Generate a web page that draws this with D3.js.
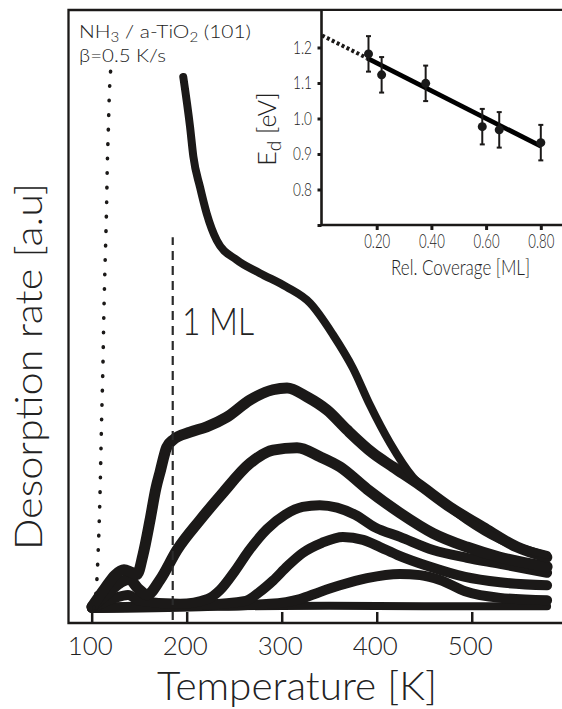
<!DOCTYPE html>
<html><head><meta charset="utf-8">
<script src="https://cdn.jsdelivr.net/npm/d3@7"></script>
<style>
html,body{margin:0;padding:0;background:#fff;}
svg{display:block;}
text{font-family:Lato,"Open Sans","DejaVu Sans",sans-serif;font-weight:300;fill:#222;}
</style></head><body>
<svg id="chart" width="562" height="709"></svg>
<script>
// ---------- DATA ----------
const tempTicks = [100, 200, 300, 400, 500];

// multilayer leading edge (dotted spike)
const multiT = [102.4,105.3,106.9,108.7,110.5,111.9,112.7,114,115,115.8,116.4,117.5,118.5,120];
const multiV = [0,4.2,9.7,18.6,31.9,41.0,48.2,57,62.7,68.2,73.7,79.9,85.5,90];

// TPD curves, highest to lowest coverage
const curveA_T = [196.4,203.5,207,214,221,231.6,252.6,277,305,329.8,354,375,393,414,438,466.6,494.7,530,579];
const curveA_V = [88.8,80.5,75.5,70.4,66.0,61.5,58.2,56.0,53.7,51.0,45.7,40.1,33.9,27.6,21.9,18.1,14.7,11.4,8.9];

const curveB_T = [100.3,114,124.5,134,141.4,147.7,154,161.4,167.7,171.9,179,185.6,203.5,221,242,266.6,290.8,305.6,326.6,347.7,368.7,396,417,442.4,477,511.9,547.7,579];
const curveB_V = [0.2,3.3,5.5,6.4,6.0,5.6,8.9,14.7,20.1,22.7,26.9,28.1,29.4,30.3,31.9,34.8,36.5,36.8,35.3,33.1,29.8,25.9,23.6,20.9,16.9,13.5,10.2,8.5];

const curveC_T = [100.3,117.2,129.8,139.3,148.7,158.2,171.9,189.8,214,237.2,266.6,290.8,316.1,340.3,361.4,389.8,424.5,459.3,495,529.8,579.3];
const curveC_V = [0.2,2.5,4.2,4.8,3.3,2.2,4.7,9.7,14.7,19.1,24.2,26.4,26.8,25.3,23.6,19.9,15.9,12.5,10.2,8.5,6.9];

const curveD_T = [100.3,124.5,138.2,150.8,193,222,235,250.8,265,284.5,303.5,322,340,358.2,377.2,398.2,424.5,459.3,495,529.8,579.3];
const curveD_V = [0,1.7,2.2,1.2,0.7,1.5,3.0,6.2,9.5,13.2,15.6,16.9,17.2,16.8,15.6,13.5,11.9,9.7,8.4,7.4,5.9];

const curveE_T = [100.3,161.4,214,262,276,291,306,322,342.4,364.5,385.6,403.5,421.4,456.1,493,529.8,579.3];
const curveE_V = [0,0.3,0.5,1.2,2.6,4.6,7.0,9.2,10.9,11.9,11.4,10.2,8.9,6.9,5.2,4.3,3.8];

const curveF_T = [100.3,214,287.7,319.3,340.3,361.4,389.8,424.5,445.6,466.6,493,529.8,579.3];
const curveF_V = [0,0.3,0.7,1.5,2.7,3.8,5.0,5.7,5.5,4.7,2.8,1.7,1.3];

const curveG_T = [100.3,150,250,350,450,579.3];
const curveG_V = [0.2,0.3,0.3,0.4,0.3,0.3];

// 1 ML marker (dashed)
const oneML_T = 185.3;
const oneML_V = [-2, 62];

// inset: desorption energy vs coverage
const coverage = [0.17, 0.218, 0.379, 0.586, 0.648, 0.80];
const energy   = [1.182, 1.123, 1.099, 0.977, 0.968, 0.932];
const energyErr = [0.05, 0.05, 0.05, 0.05, 0.05, 0.05];
const fitCov = [0.165, 0.80];
const fitE   = [1.170, 0.922];
const extrapCov = [0.0, 0.165];
const extrapE   = [1.234, 1.170];
const insetYTicks = [0.7, 0.8, 0.9, 1.0, 1.1, 1.2];
const insetXTicks = [0.2, 0.4, 0.6, 0.8];

// ---------- DRAW ----------
const svg = d3.select('#chart');
const ink = '#1b1918';

const x = d3.scaleLinear().domain([75.6, 595]).range([68.5, 562]);
const y = d3.scaleLinear().domain([-2.5, 100]).range([623, 10]);

svg.append('defs').append('clipPath').attr('id','plotclip')
  .append('rect').attr('x',68.5).attr('y',10).attr('width',562-68.5).attr('height',613);

const zip = (a,b) => a.map((d,i)=>[d,b[i]]);
const line = d3.line().x(d=>x(d[0])).y(d=>y(d[1])).curve(d3.curveMonotoneX);

const plot = svg.append('g').attr('clip-path','url(#plotclip)');

const series = [
  {t:curveG_T, v:curveG_V, w:8},
  {t:curveF_T, v:curveF_V, w:10},
  {t:curveE_T, v:curveE_V, w:10},
  {t:curveD_T, v:curveD_V, w:10},
  {t:curveC_T, v:curveC_V, w:11},
  {t:curveB_T, v:curveB_V, w:11},
  {t:curveA_T, v:curveA_V, w:8}
];
series.forEach(s=>{
  plot.append('path').attr('d', line(zip(s.t,s.v)))
    .attr('fill','none').attr('stroke',ink).attr('stroke-width',s.w)
    .attr('stroke-linejoin','round').attr('stroke-linecap','round');
});

// multilayer spike, dotted
plot.append('path').attr('d', line(zip(multiT,multiV)))
  .attr('fill','none').attr('stroke',ink).attr('stroke-width',3.6)
  .attr('stroke-dasharray','0.5,14').attr('stroke-linecap','round');

// 1 ML dashed line
plot.append('line')
  .attr('x1',x(oneML_T)).attr('x2',x(oneML_T))
  .attr('y1',y(oneML_V[0])).attr('y2',y(oneML_V[1]))
  .attr('stroke','#2a2a2a').attr('stroke-width',2.2).attr('stroke-dasharray','9,6');

// main x axis ticks + labels
const xAxis = d3.axisBottom(x).tickValues(tempTicks).tickSizeInner(-11).tickSizeOuter(0).tickPadding(13.5).tickFormat(d3.format('d'));
const gx = svg.append('g').attr('transform','translate(0,623)').call(xAxis);
gx.select('.domain').remove();
gx.selectAll('line').attr('stroke',ink).attr('stroke-width',2.5);
gx.selectAll('text').attr('font-size',26).attr('fill','#222')
  .attr('font-family','Lato,"Open Sans",sans-serif').attr('font-weight',300)
  .attr('dx',-2).attr('textLength',45).attr('lengthAdjust','spacingAndGlyphs');

// main frame
svg.append('path').attr('d','M562,10H68.5V623H562')
  .attr('fill','none').attr('stroke',ink).attr('stroke-width',2.3);

// axis titles
svg.append('text').attr('x',297).attr('y',700).attr('text-anchor','middle')
  .attr('font-size',39).attr('textLength',280).attr('lengthAdjust','spacingAndGlyphs')
  .text('Temperature [K]');
svg.append('text').attr('transform','translate(42,366.5) rotate(-90)').attr('text-anchor','middle')
  .attr('font-size',37).attr('textLength',367).attr('lengthAdjust','spacingAndGlyphs')
  .text('Desorption rate [a.u]');

// 1 ML label
svg.append('text').attr('x',182).attr('y',335).attr('font-size',37)
  .attr('textLength',72).attr('lengthAdjust','spacingAndGlyphs').text('1 ML');

// top-left annotation
const t1 = svg.append('text').attr('x',79).attr('y',38).attr('font-size',18)
  .attr('textLength',172).attr('lengthAdjust','spacingAndGlyphs');
t1.append('tspan').text('NH');
t1.append('tspan').attr('font-size',13).attr('dy',4).text('3');
t1.append('tspan').attr('dy',-4).text(' / a-TiO');
t1.append('tspan').attr('font-size',13).attr('dy',4).text('2');
t1.append('tspan').attr('dy',-4).text(' (101)');
svg.append('text').attr('x',79).attr('y',62).attr('font-size',18)
  .attr('textLength',87).attr('lengthAdjust','spacingAndGlyphs').text('β=0.5 K/s');

// ---------- INSET ----------
const xi = d3.scaleLinear().domain([0, 0.8775]).range([322, 562]);
const yi = d3.scaleLinear().domain([0.7, 1.3056]).range([225, 10]);
const inset = svg.append('g');
inset.append('rect').attr('x',321.5).attr('y',11).attr('width',241).attr('height',214).attr('fill','#fff');

const iyAxis = d3.axisLeft(yi).tickValues(insetYTicks).tickSizeInner(4).tickSizeOuter(0).tickPadding(5.5)
  .tickFormat(d => d === 0.7 ? '' : d3.format('.1f')(d));
const giy = inset.append('g').attr('transform','translate(321.5,0)').call(iyAxis);
giy.select('.domain').remove();
giy.selectAll('line').attr('stroke',ink).attr('stroke-width',3);
giy.selectAll('text').attr('font-size',18.5).attr('fill','#333')
  .attr('font-family','Lato,"Open Sans",sans-serif').attr('font-weight',300)
  .attr('textLength',19).attr('lengthAdjust','spacingAndGlyphs');

const ixAxis = d3.axisBottom(xi).tickValues(insetXTicks).tickSizeInner(5).tickSizeOuter(0).tickPadding(4)
  .tickFormat(d3.format('.2f'));
const gix = inset.append('g').attr('transform','translate(0,225)').call(ixAxis);
gix.select('.domain').remove();
gix.selectAll('line').attr('stroke',ink).attr('stroke-width',3);
gix.selectAll('text').attr('font-size',20).attr('fill','#333')
  .attr('font-family','Lato,"Open Sans",sans-serif').attr('font-weight',300)
  .attr('textLength',26).attr('lengthAdjust','spacingAndGlyphs');

inset.append('path').attr('d','M321.5,10V225H562')
  .attr('fill','none').attr('stroke',ink).attr('stroke-width',2.6);

// extrapolation dotted + fit line
const iline = d3.line().x(d=>xi(d[0])).y(d=>yi(d[1]));
inset.append('path').attr('d', iline(zip(extrapCov,extrapE)))
  .attr('stroke',ink).attr('stroke-width',4).attr('stroke-dasharray','3,2.5').attr('fill','none');
inset.append('path').attr('d', iline(zip(fitCov,fitE)))
  .attr('stroke','#000').attr('stroke-width',4.8).attr('fill','none');

// error bars + points
const pts = coverage.map((c,i)=>({c, e:energy[i], err:energyErr[i]}));
const eb = inset.append('g').attr('stroke',ink).attr('stroke-width',2);
pts.forEach(p=>{
  eb.append('line').attr('x1',xi(p.c)).attr('x2',xi(p.c)).attr('y1',yi(p.e-p.err)).attr('y2',yi(p.e+p.err));
  eb.append('line').attr('x1',xi(p.c)-2.5).attr('x2',xi(p.c)+2.5).attr('y1',yi(p.e-p.err)).attr('y2',yi(p.e-p.err));
  eb.append('line').attr('x1',xi(p.c)-2.5).attr('x2',xi(p.c)+2.5).attr('y1',yi(p.e+p.err)).attr('y2',yi(p.e+p.err));
});
inset.selectAll('circle.pt').data(pts).enter().append('circle').attr('class','pt')
  .attr('cx',d=>xi(d.c)).attr('cy',d=>yi(d.e)).attr('r',4.5).attr('fill','#1a1a1a');

// inset titles
inset.append('text').attr('x',460.5).attr('y',275).attr('text-anchor','middle').attr('font-size',21).attr('fill','#333')
  .attr('textLength',139).attr('lengthAdjust','spacingAndGlyphs').text('Rel. Coverage [ML]');
const ed = inset.append('text').attr('transform','translate(276,129) rotate(-90)').attr('text-anchor','middle')
  .attr('font-size',25).attr('fill','#333');
ed.append('tspan').text('E');
ed.append('tspan').attr('font-size',19).attr('dy',5).text('d');
ed.append('tspan').attr('dy',-5).text(' [eV]');
</script>
</body></html>
